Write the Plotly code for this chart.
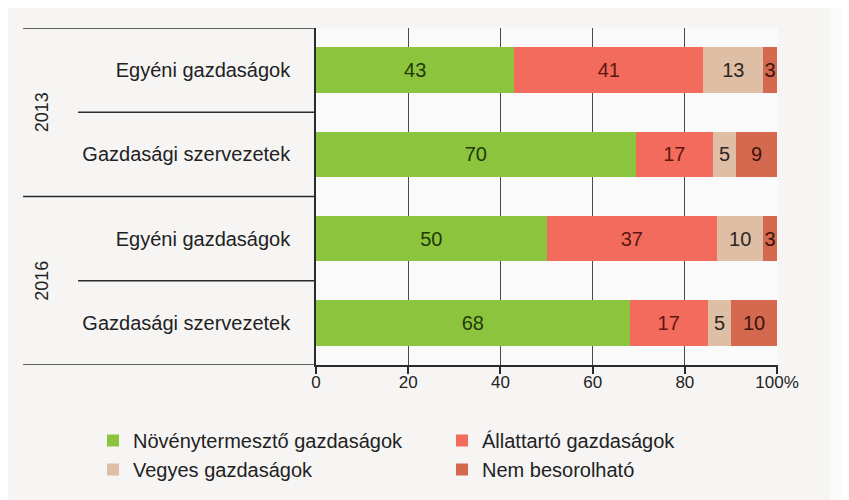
import plotly.graph_objects as go

years = ["2013", "2016"]
types = ["Egyéni gazdaságok", "Gazdasági szervezetek",
         "Egyéni gazdaságok", "Gazdasági szervezetek"]
year_of_row = ["2013", "2013", "2016", "2016"]

series_names = ["Növénytermesztő gazdaságok", "Állattartó gazdaságok",
                "Vegyes gazdaságok", "Nem besorolható"]
novenyterm = [43, 70, 50, 68]
allattarto = [41, 17, 37, 17]
vegyes = [13, 5, 10, 5]
nem_besorolhato = [3, 9, 3, 10]
series_values = [novenyterm, allattarto, vegyes, nem_besorolhato]

x_tickvals = [0, 20, 40, 60, 80, 100]
x_ticktext = ["0", "20", "40", "60", "80", "100%"]

colors = ["#8dc43d", "#f26b5c", "#dfbea6", "#d4694f"]
text_colors = ["#1f3a08", "#5e1710", "#2e2620", "#3a130c"]

FONT = "Liberation Sans, Arial, sans-serif"
rows = list(range(len(types)))

fig = go.Figure()
for name, vals, c, tc in zip(series_names, series_values, colors, text_colors):
    fig.add_trace(go.Bar(
        y=rows, x=vals, name=name, orientation="h",
        marker=dict(color=c, line=dict(width=0)),
        text=[str(v) for v in vals], textposition="inside",
        insidetextanchor="middle", textangle=0, constraintext="none",
        textfont=dict(family=FONT, size=20, color=tc),
        width=0.54, cliponaxis=False,
    ))

shapes = [dict(type="rect", xref="paper", yref="paper", x0=1.1126, x1=1.3,
               y0=-1, y1=2, fillcolor="#fafaf9", line=dict(width=0), layer="below")]
line_style = dict(color="#2b2b2b", width=1.5)
for yb, x0 in [(-0.5, -0.634), (1.5, -0.634), (3.5, -0.634), (0.5, -0.515), (2.5, -0.515)]:
    shapes.append(dict(type="line", xref="paper", yref="y", x0=x0, x1=0,
                       y0=yb, y1=yb, line=line_style, layer="above"))

annotations = []
for i, yr in enumerate(years):
    idx = [k for k, v in enumerate(year_of_row) if v == yr]
    ymid = sum(idx) / len(idx)
    annotations.append(dict(text=yr, xref="paper", yref="y", x=-0.593, y=ymid,
                            xanchor="center", yanchor="middle",
                            textangle=-90, showarrow=False,
                            font=dict(family=FONT, size=18, color="#222")))

fig.update_layout(
    width=849, height=500,
    barmode="stack",
    barnorm="percent",
    paper_bgcolor="#f6f5f4",
    plot_bgcolor="#fafafa",
    margin=dict(l=308, r=79, t=20, b=143, autoexpand=False),
    uniformtext=dict(minsize=20, mode="show"),
    shapes=shapes,
    annotations=annotations,
    showlegend=True,
    legend=dict(orientation="h", x=-0.4827, xanchor="left", y=-0.1662, yanchor="top",
                entrywidth=304, entrywidthmode="pixels",
                font=dict(family=FONT, size=20, color="#222"),
                traceorder="normal", itemsizing="constant", tracegroupgap=0,
                bgcolor="rgba(0,0,0,0)"),
    font=dict(family=FONT, size=20, color="#222"),
)
fig.update_xaxes(range=[0, 100.2], tickvals=x_tickvals, ticktext=x_ticktext,
                 showgrid=True, gridcolor="#4a4a4a", gridwidth=1.3,
                 showline=True, linecolor="#2b2b2b", linewidth=1.5,
                 ticks="outside", ticklen=7, tickcolor="#2b2b2b", tickwidth=1.5,
                 ticklabelstandoff=-6,
                 zeroline=False, tickfont=dict(family=FONT, size=17, color="#222"))
fig.update_yaxes(tickvals=rows, ticktext=types, range=[3.5, -0.5],
                 showgrid=False, zeroline=False,
                 showline=True, linecolor="#2b2b2b", linewidth=1.5,
                 ticks="", ticklabelstandoff=20,
                 tickfont=dict(family=FONT, size=20, color="#222"))

fig.write_html("out.html")
